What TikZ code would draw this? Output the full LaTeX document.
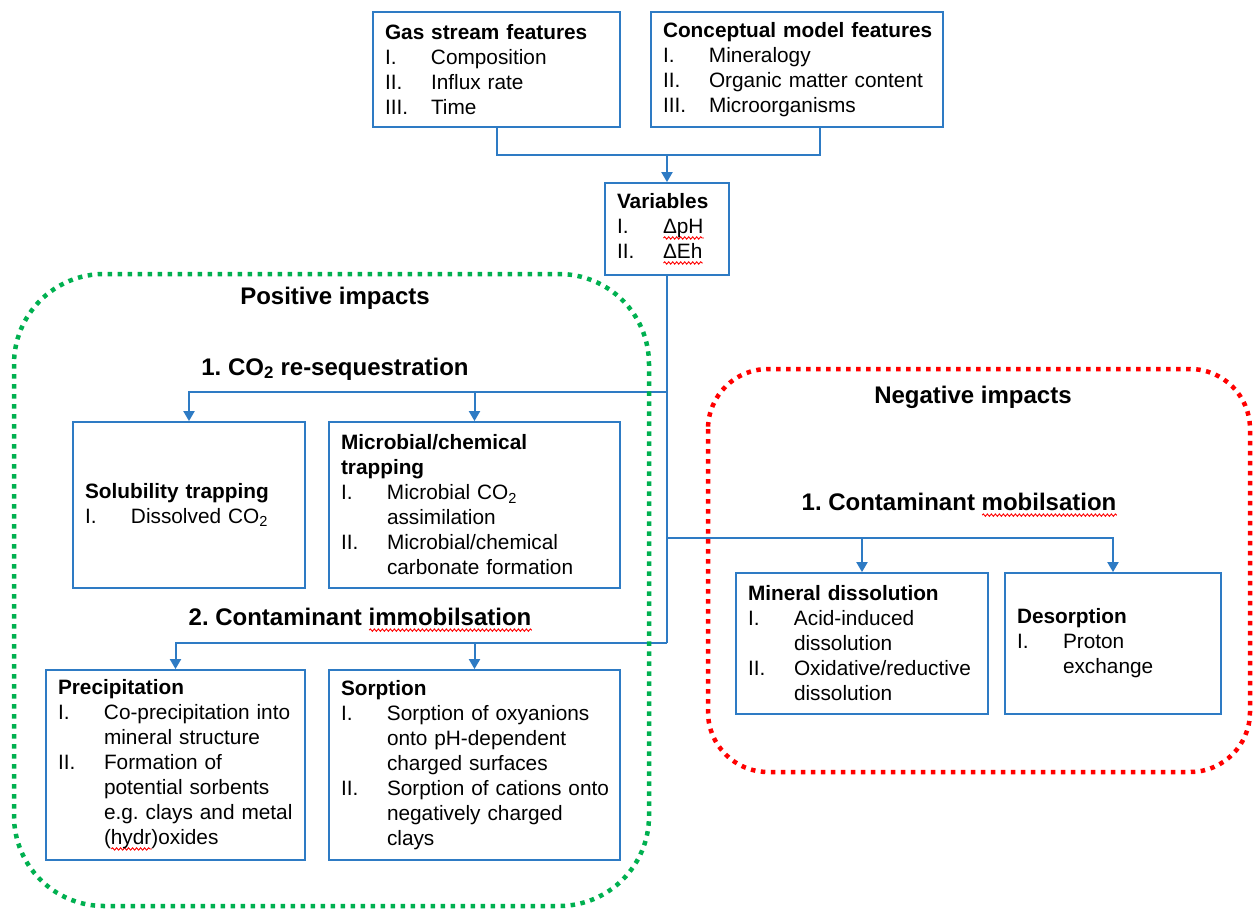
\documentclass[tikz,border=0pt]{standalone}
\usepackage{fontspec}
\setmainfont{Liberation Sans}
\usepackage{tikz}
\usetikzlibrary{arrows.meta,decorations.pathmorphing}
\frenchspacing

\definecolor{boxblue}{HTML}{2E7BC4}
\definecolor{posgreen}{HTML}{00B050}
\definecolor{negred}{HTML}{FF0000}

% red wavy spell-check mark, box title, numbered item, continued line
\newlength{\splw}
\newcommand{\spl}[1]{\settowidth{\splw}{#1}\rlap{\tikz[baseline=0pt]\draw[negred,line width=0.9pt,
  decorate,decoration={snake,amplitude=1.2pt,segment length=4pt}] (0pt,-4.5pt) -- (\splw,-4.5pt);}#1}
\newcommand{\ttl}[1]{\mbox{\bfseries #1}}
\newcommand{\itm}[2]{\makebox[46pt][l]{#1}\mbox{#2}}
\newcommand{\cnt}[1]{\hspace*{46pt}\mbox{#1}}

\begin{document}
\begin{tikzpicture}[x=1pt,y=-1pt,
  box/.style={draw=boxblue,line width=1.8pt,align=left,inner xsep=12pt,inner ysep=0pt,
    font=\fontsize{20.8}{25}\selectfont},
  head/.style={font=\fontsize{24}{28}\selectfont\bfseries,inner sep=0pt},
  link/.style={draw=boxblue,line width=2pt},
  arr/.style={link,-{Triangle[width=11pt,length=10pt]}},
  zone/.style={line width=4.5pt,dash pattern=on 4.5pt off 5.5pt}]

\useasboundingbox (0,0) rectangle (1253,908);

  \node (gas) at (496.5,69.5) [box,text width=223pt,minimum height=115pt]
    {\ttl{Gas stream features}\\ \itm{I.}{Composition}\\ \itm{II.}{Influx rate}\\ \itm{III.}{Time}};
  \node (cmodel) at (797,69.5) [box,text width=268pt,minimum height=115pt]
    {\ttl{Conceptual model features}\\ \itm{I.}{Mineralogy}\\ \itm{II.}{Organic matter content}\\ \itm{III.}{Microorganisms}};
  \node (vars) at (667,229) [box,text width=100pt,minimum height=92pt]
    {\ttl{Variables}\\ \itm{I.}{\spl{ΔpH}}\\ \itm{II.}{\spl{ΔEh}}};

  \coordinate (cmfoot) at (820,127);
  \coordinate (topjoin) at (667,155);

\draw[link] (gas.south) |- (topjoin) -| (cmfoot);
\draw[arr] (topjoin) -- (vars.north);

%%% positive impacts %%%

  \node (posimp) at (335,298) [head] {Positive impacts};
  \node (co2head) at (335,369) [head] {1. CO\textsubscript{2} re-sequestration};
  \node (immhead) at (360,620) [head] {2. Contaminant \spl{immobilsation}};

  \node (soltrap) at (189,505) [box,text width=208pt,minimum height=166pt]
    {\ttl{Solubility trapping}\\ \itm{I.}{Dissolved CO\textsubscript{2}}};
  \node (mictrap) at (474.5,505) [box,text width=267pt,minimum height=166pt]
    {\ttl{Microbial/chemical}\\ \ttl{trapping}\\ \itm{I.}{Microbial CO\textsubscript{2}}\\ \cnt{assimilation}\\
     \itm{II.}{Microbial/chemical}\\ \cnt{carbonate formation}};
  \node (precip) at (175.5,765) [box,text width=235pt,minimum height=190pt]
    {\ttl{Precipitation}\\ \itm{I.}{Co-precipitation into}\\ \cnt{mineral structure}\\ \itm{II.}{Formation of}\\
     \cnt{potential sorbents}\\ \cnt{e.g. clays and metal}\\ \cnt{(\spl{hydr})oxides}};
  \node (sorp) at (474.5,765) [box,text width=267pt,minimum height=190pt]
    {\ttl{Sorption}\\ \itm{I.}{Sorption of oxyanions}\\ \cnt{onto pH-dependent}\\ \cnt{charged surfaces}\\
     \itm{II.}{Sorption of cations onto}\\ \cnt{negatively charged}\\ \cnt{clays}};

%%% negative impacts %%%

  \node (negimp) at (973,397) [head] {Negative impacts};
  \node (mobhead) at (959,505) [head] {1. Contaminant \spl{mobilsation}};

  \node (mindiss) at (862,643.5) [box,text width=228pt,minimum height=141pt]
    {\ttl{Mineral dissolution}\\ \itm{I.}{Acid-induced}\\ \cnt{dissolution}\\ \itm{II.}{Oxidative/reductive}\\ \cnt{dissolution}};
  \node (desorp) at (1113,643.5) [box,text width=192pt,minimum height=141pt]
    {\ttl{Desorption}\\ \itm{I.}{Proton}\\ \cnt{exchange}};

  \coordinate (co2join) at (667,392);
  \coordinate (mobjoin) at (667,538);
  \coordinate (immjoin) at (667,643);

\draw[link] (vars.south) -- (immjoin);
\draw[arr] (co2join) -| (soltrap.north);
\draw[arr] (co2join -| mictrap.north) -- (mictrap.north);
\draw[arr] (immjoin) -| (precip.north);
\draw[arr] (immjoin -| sorp.north) -- (sorp.north);
\draw[arr] (mobjoin) -| (desorp.north);
\draw[arr] (mobjoin -| mindiss.north) -- (mindiss.north);

%%% dotted zones %%%
\draw[zone,posgreen,rounded corners=90pt] (14,274) rectangle (649,906);
\draw[zone,negred,rounded corners=60pt] (708,369) rectangle (1250,772);
\end{tikzpicture}
\end{document}
